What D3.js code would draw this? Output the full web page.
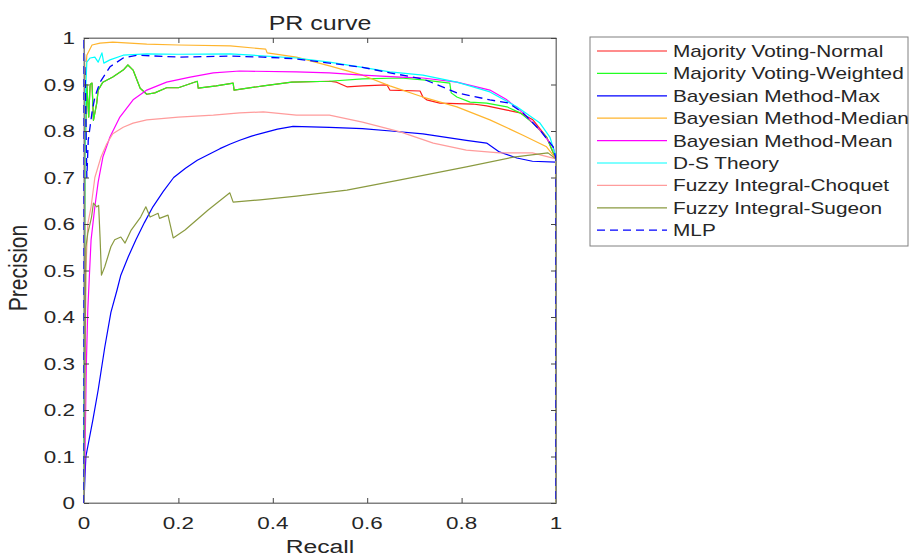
<!DOCTYPE html>
<html><head><meta charset="utf-8">
<script src="https://cdn.jsdelivr.net/npm/d3@7"></script>
<style>body{margin:0;background:#fff;} svg{display:block;font-family:"Liberation Sans",Arial,sans-serif;}</style>
</head><body>
<svg id="chart" width="910" height="556"></svg>
<script>
const seriesNames = ["Majority Voting-Normal","Majority Voting-Weighted","Bayesian Method-Max","Bayesian Method-Median","Bayesian Method-Mean","D-S Theory","Fuzzy Integral-Choquet","Fuzzy Integral-Sugeon","MLP"];
const seriesColors = ["#ff1a1a","#22ff22","#0000ff","#ffb52e","#ff00ff","#00ffff","#ff9c9c","#8a9a40","#0000ff"];
const xTicks = [0,0.2,0.4,0.6,0.8,1];
const yTicks = [0,0.1,0.2,0.3,0.4,0.5,0.6,0.7,0.8,0.9,1];

const greenEarly = [[0,0],[0.002,0.75],[0.006,0.9],[0.01,0.83],[0.013,0.9],[0.017,0.903],[0.02,0.823],[0.027,0.86],[0.03,0.888],[0.04,0.905],[0.061,0.916],[0.083,0.931],[0.093,0.942],[0.104,0.931],[0.119,0.892],[0.133,0.879],[0.15,0.882],[0.175,0.893],[0.2,0.893],[0.24,0.907],[0.242,0.892],[0.28,0.897],[0.316,0.903],[0.318,0.888],[0.38,0.897],[0.44,0.905],[0.52,0.907]];
const majorityNormal = greenEarly.concat([[0.535,0.905],[0.557,0.895],[0.59,0.897],[0.642,0.899],[0.648,0.888],[0.712,0.886],[0.718,0.873],[0.726,0.867],[0.754,0.86],[0.824,0.858],[0.853,0.854],[0.896,0.845],[0.924,0.839],[0.951,0.824],[0.98,0.787],[1,0.738],[1,0]]);
const majorityWeighted = greenEarly.concat([[0.59,0.912],[0.67,0.914],[0.718,0.91],[0.775,0.903],[0.778,0.882],[0.79,0.873],[0.818,0.862],[0.853,0.86],[0.896,0.852],[0.924,0.839],[0.951,0.817],[0.98,0.787],[1,0.74],[1,0]]);
const bayesMax = [[0,0],[0.002,0.056],[0.004,0.1],[0.019,0.18],[0.03,0.243],[0.044,0.335],[0.057,0.41],[0.07,0.458],[0.078,0.49],[0.094,0.53],[0.11,0.566],[0.128,0.603],[0.146,0.637],[0.168,0.67],[0.19,0.7],[0.215,0.72],[0.24,0.737],[0.265,0.75],[0.288,0.762],[0.31,0.772],[0.33,0.78],[0.355,0.789],[0.38,0.796],[0.41,0.804],[0.443,0.81],[0.52,0.808],[0.59,0.805],[0.65,0.8],[0.718,0.794],[0.81,0.78],[0.853,0.774],[0.88,0.755],[0.917,0.742],[0.95,0.735],[1,0.733],[1,0]];
const bayesMedian = [[0,0],[0.002,0.9],[0.006,0.963],[0.017,0.985],[0.034,0.989],[0.061,0.991],[0.133,0.987],[0.2,0.985],[0.31,0.983],[0.385,0.976],[0.388,0.968],[0.45,0.959],[0.52,0.94],[0.59,0.92],[0.648,0.897],[0.718,0.873],[0.79,0.852],[0.86,0.824],[0.93,0.791],[0.98,0.766],[1,0.74],[1,0]];
const bayesMean = [[0,0],[0.002,0.1],[0.005,0.3],[0.008,0.415],[0.015,0.566],[0.023,0.637],[0.03,0.69],[0.04,0.744],[0.055,0.787],[0.076,0.83],[0.104,0.867],[0.133,0.888],[0.175,0.905],[0.225,0.916],[0.274,0.925],[0.33,0.929],[0.45,0.927],[0.52,0.925],[0.59,0.92],[0.67,0.916],[0.718,0.914],[0.79,0.905],[0.86,0.888],[0.896,0.867],[0.93,0.839],[0.966,0.802],[0.994,0.766],[1,0.74],[1,0]];
const dsTheory = [[0,0],[0.002,0.85],[0.006,0.948],[0.013,0.957],[0.023,0.959],[0.03,0.948],[0.038,0.968],[0.042,0.946],[0.055,0.953],[0.083,0.963],[0.133,0.966],[0.2,0.965],[0.31,0.966],[0.45,0.957],[0.52,0.948],[0.59,0.937],[0.648,0.927],[0.718,0.92],[0.79,0.905],[0.86,0.884],[0.917,0.852],[0.966,0.817],[0.987,0.787],[1,0.745],[1,0]];
const fuzzyChoquet = [[0,0],[0.004,0.5],[0.008,0.6],[0.015,0.637],[0.023,0.7],[0.036,0.744],[0.048,0.772],[0.061,0.794],[0.083,0.808],[0.104,0.817],[0.133,0.824],[0.2,0.83],[0.274,0.834],[0.33,0.839],[0.38,0.841],[0.45,0.834],[0.52,0.834],[0.59,0.819],[0.67,0.798],[0.74,0.774],[0.81,0.759],[0.88,0.753],[0.95,0.753],[1,0.74],[1,0]];
const fuzzySugeon = [[0,0],[0.004,0.55],[0.008,0.58],[0.016,0.615],[0.02,0.645],[0.027,0.637],[0.031,0.64],[0.034,0.572],[0.037,0.49],[0.044,0.508],[0.057,0.551],[0.065,0.566],[0.078,0.572],[0.087,0.559],[0.1,0.587],[0.12,0.615],[0.131,0.637],[0.14,0.615],[0.157,0.623],[0.16,0.612],[0.178,0.619],[0.189,0.57],[0.214,0.587],[0.263,0.63],[0.309,0.667],[0.316,0.647],[0.373,0.652],[0.45,0.66],[0.557,0.673],[0.67,0.695],[0.81,0.723],[0.91,0.744],[0.983,0.753],[1,0.74],[1,0]];
const mlp = [[0,0],[0,1],[0.003,0.9],[0.006,0.7],[0.009,0.78],[0.017,0.84],[0.023,0.873],[0.034,0.905],[0.055,0.938],[0.083,0.957],[0.112,0.963],[0.2,0.959],[0.31,0.961],[0.38,0.959],[0.45,0.955],[0.52,0.946],[0.59,0.937],[0.648,0.925],[0.718,0.912],[0.79,0.882],[0.86,0.867],[0.9,0.86],[0.93,0.839],[0.966,0.802],[0.994,0.766],[1,0.74],[1,0]];

const seriesData = [majorityNormal,majorityWeighted,bayesMax,bayesMedian,bayesMean,dsTheory,fuzzyChoquet,fuzzySugeon,mlp];

const svg = d3.select("#chart");
const L = 84, R = 556, T = 38, B = 503;
const x = d3.scaleLinear().domain([0,1]).range([L,R]);
const y = d3.scaleLinear().domain([0,1]).range([B,T]);
const axisCol = "#808080", textCol = "#262626";
const SX = 1.32; // horizontal stretch of the reference's text
const fmt = d => d === 0 ? "0" : d === 1 ? "1" : d3.format(".1f")(d);

function stext(parent, px, py, str, size, anchor, sx){
  return parent.append("text")
    .attr("transform", `translate(${px},${py}) scale(${sx||SX},1)`)
    .attr("text-anchor", anchor).attr("font-size", size+"px")
    .attr("fill", textCol).text(str);
}

// box
svg.append("rect").attr("x",L).attr("y",T).attr("width",R-L).attr("height",B-T)
  .attr("fill","#fff").attr("stroke",axisCol).attr("stroke-width",1);

// curves
const line = d3.line().x(d=>x(d[0])).y(d=>y(d[1]));
seriesData.forEach((s,i)=>{
  svg.append("path").attr("d",line(s)).attr("fill","none")
    .attr("stroke",seriesColors[i]).attr("stroke-width", i===8?1.3:1.2)
    .attr("stroke-linejoin","round")
    .attr("stroke-dasharray", i===8?"8,5":null);
});

function styleAxis(g){
  g.select(".domain").attr("stroke",axisCol);
  g.selectAll(".tick line").attr("stroke","#444");
  g.selectAll(".tick text").remove();
}
svg.append("g").attr("transform",`translate(0,${B})`)
  .call(d3.axisBottom(x).tickValues(xTicks).tickSizeInner(-5).tickSizeOuter(0)).call(styleAxis);
svg.append("g").attr("transform",`translate(0,${T})`)
  .call(d3.axisTop(x).tickValues(xTicks).tickSizeInner(-5).tickSizeOuter(0)).call(styleAxis);
svg.append("g").attr("transform",`translate(${L},0)`)
  .call(d3.axisLeft(y).tickValues(yTicks).tickSizeInner(-5).tickSizeOuter(0)).call(styleAxis);
svg.append("g").attr("transform",`translate(${R},0)`)
  .call(d3.axisRight(y).tickValues(yTicks).tickSizeInner(-5).tickSizeOuter(0)).call(styleAxis);

// tick labels
const tl = svg.append("g");
xTicks.forEach(v=> stext(tl, x(v), 529, fmt(v), 17, "middle"));
yTicks.forEach(v=> stext(tl, 75, y(v)+6, fmt(v), 17, "end"));

// titles
stext(svg, (L+R)/2, 30, "PR curve", 20, "middle", 1.25);
stext(svg, (L+R)/2, 553, "Recall", 19, "middle", 1.3);
svg.append("text").attr("transform",`translate(27,268) rotate(-90) scale(1,1.25)`)
  .attr("text-anchor","middle").attr("font-size","21px").attr("fill",textCol).text("Precision");

// legend
const lg = svg.append("g");
lg.append("rect").attr("x",590).attr("y",37).attr("width",318).attr("height",209)
  .attr("fill","#fff").attr("stroke",axisCol).attr("stroke-width",1);
seriesNames.forEach((n,i)=>{
  const yy = 51 + i*22.4;
  lg.append("line").attr("x1",597).attr("x2",667).attr("y1",yy).attr("y2",yy)
    .attr("stroke",seriesColors[i]).attr("stroke-width",1.2)
    .attr("stroke-dasharray", i===8?"8,5":null);
  stext(lg, 673, yy+6, n, 16, "start", 1.3);
});
</script>
</body></html>
